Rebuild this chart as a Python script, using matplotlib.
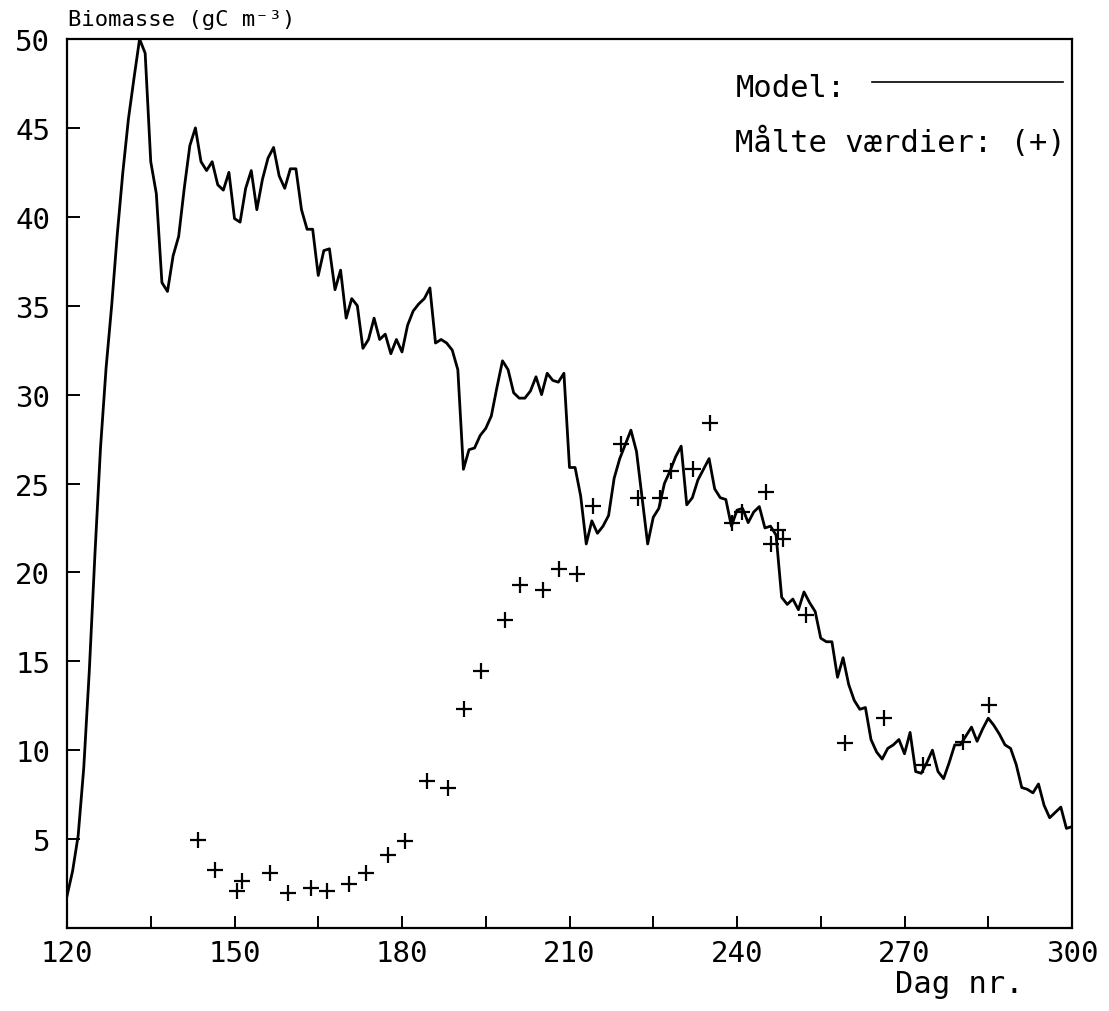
import numpy as np
import matplotlib.pyplot as plt
from matplotlib.ticker import MultipleLocator

plt.rcParams['font.family'] = ['DejaVu Sans Mono', 'DejaVu Sans']

# model run, one value per day (day 120..300)
days = np.arange(120, 301)
model = [1.8, 3.2, 5.2, 9.0, 14.5, 21.0, 27.0, 31.5, 35.0, 39.0,
         42.5, 45.5, 47.8, 50.0, 49.2, 43.1, 41.3, 36.3, 35.8, 37.8,
         38.9, 41.6, 44.0, 45.0, 43.1, 42.6, 43.1, 41.8, 41.5, 42.5,
         39.9, 39.7, 41.6, 42.6, 40.4, 42.1, 43.3, 43.9, 42.3, 41.6,
         42.7, 42.7, 40.4, 39.3, 39.3, 36.7, 38.1, 38.2, 35.9, 37.0,
         34.3, 35.4, 35.0, 32.6, 33.1, 34.3, 33.1, 33.4, 32.3, 33.1,
         32.4, 33.9, 34.7, 35.1, 35.4, 36.0, 32.9, 33.1, 32.9, 32.5,
         31.4, 25.8, 26.9, 27.0, 27.7, 28.1, 28.8, 30.4, 31.9, 31.4,
         30.1, 29.8, 29.8, 30.2, 31.0, 30.0, 31.2, 30.8, 30.7, 31.2,
         25.9, 25.9, 24.3, 21.6, 22.9, 22.2, 22.6, 23.2, 25.3, 26.4,
         27.2, 28.0, 26.8, 24.2, 21.6, 23.1, 23.6, 25.0, 25.7, 26.5,
         27.1, 23.8, 24.2, 25.2, 25.8, 26.4, 24.7, 24.2, 24.1, 22.6,
         23.5, 23.6, 22.8, 23.4, 23.7, 22.5, 22.6, 22.1, 18.6, 18.2,
         18.5, 17.9, 18.9, 18.3, 17.8, 16.3, 16.1, 16.1, 14.1, 15.2,
         13.7, 12.8, 12.3, 12.4, 10.6, 9.9, 9.5, 10.1, 10.3, 10.6,
         9.8, 11.0, 8.8, 8.7, 9.3, 10.0, 8.8, 8.4, 9.3, 10.3,
         10.3, 10.8, 11.3, 10.5, 11.2, 11.8, 11.4, 10.9, 10.3, 10.1,
         9.2, 7.9, 7.8, 7.6, 8.1, 6.9, 6.2, 6.5, 6.8, 5.6,
         5.7]

# measured values (+)
obs_day = [143.5, 146.5, 150.5, 151.4, 156.4, 159.5, 163.7, 166.5, 170.5, 173.5,
           177.5, 180.5, 184.4, 188.3, 191.1, 194.2, 198.4, 201.2, 205.3, 208.2,
           211.3, 214.2, 219.3, 222.3, 226.2, 228.2, 232.2, 235.2, 239.1, 240.9,
           245.2, 246.1, 247.3, 248.3, 252.3, 259.4, 266.4, 273.4, 280.4, 285.2]
obs_val = [4.97, 3.26, 2.06, 2.66, 3.09, 1.97, 2.25, 2.06, 2.5, 3.09,
           4.1, 4.91, 8.28, 7.85, 12.3, 14.45, 17.3, 19.3, 19.0, 20.2,
           19.9, 23.75, 27.2, 24.2, 24.2, 25.7, 25.8, 28.4, 22.8, 23.4,
           24.5, 21.6, 22.4, 21.9, 17.6, 10.4, 11.8, 9.17, 10.45, 12.56]

fig = plt.figure(figsize=(11.09, 10.12), dpi=100)
ax = fig.add_axes([67/1109, 1-929/1012, (1072-67)/1109, (929-40)/1012])

ax.plot(days, model, color='black', lw=2)
ax.plot(obs_day, obs_val, ls='none', marker='+', color='black',
        markersize=12, markeredgewidth=1.6)

ax.set_xlim(120, 300)
ax.set_ylim(0, 50)
ax.xaxis.set_major_locator(MultipleLocator(30))
ax.xaxis.set_minor_locator(MultipleLocator(15))
ax.set_yticks(np.arange(5, 51, 5))
ax.tick_params(axis='both', which='both', direction='in', length=9, width=1.4,
               labelsize=21)
ax.tick_params(axis='x', pad=8)
ax.tick_params(axis='y', pad=12)
for s in ax.spines.values():
    s.set_linewidth(1.6)

# legend drawn by hand
ax.text(0.665, 0.946, 'Model:', transform=ax.transAxes, fontsize=22, va='center')
ax.plot([0.801, 0.991], [0.952, 0.952], transform=ax.transAxes, color='black', lw=1.2)
ax.text(0.665, 0.885, 'Målte værdier: (+)', transform=ax.transAxes, fontsize=22,
        va='center')

fig.text(68/1109, 0.980, 'Biomasse (gC m⁻³)', fontsize=16, va='center')
fig.text(895/1109, (1012-993)/1012, 'Dag nr.', fontsize=22, va='baseline', ha='left')

fig.savefig('out.png', dpi=100)
